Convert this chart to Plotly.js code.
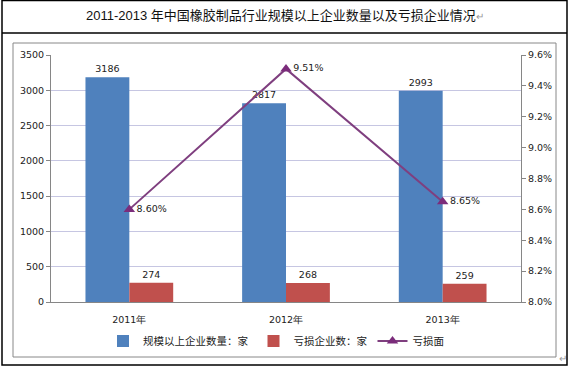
<!DOCTYPE html>
<html><head><meta charset="utf-8">
<script src="https://cdn.plot.ly/plotly-3.0.1.min.js"></script>
<style>html,body{margin:0;padding:0;background:#fff}#c{width:570px;height:367px}</style>
</head><body><div id="c"></div>
<script>
const categories = ['2011年','2012年','2013年'];
const enterpriseCount = [3186, 2817, 2993];
const lossCount = [274, 268, 259];
const lossRate = [8.60, 9.51, 8.65];
const seriesNames = ['规模以上企业数量：家','亏损企业数：家','亏损面'];
const y2Ticks = [8.0,8.2,8.4,8.6,8.8,9.0,9.2,9.4,9.6];

const W=570,H=367;
const px=x=>x/W, py=y=>1-y/H;
const tickFont={family:'DejaVu Sans, Verdana, sans-serif',size:9.5,color:'#222'};

const traces=[
 {type:'bar',x:categories,y:enterpriseCount,name:seriesNames[0],marker:{color:'#4F81BD'},
  text:enterpriseCount.map(String),textposition:'outside',cliponaxis:false,
  textfont:{family:'DejaVu Sans, Verdana, sans-serif',size:9.5,color:'#222'}},
 {type:'bar',x:categories,y:lossCount,name:seriesNames[1],marker:{color:'#C0504D'},
  text:lossCount.map(String),textposition:'outside',cliponaxis:false,
  textfont:{family:'DejaVu Sans, Verdana, sans-serif',size:9.5,color:'#222'}},
 {type:'scatter',mode:'lines+markers+text',x:categories,y:lossRate,yaxis:'y2',name:seriesNames[2],
  line:{color:'#7F3F7F',width:2},marker:{symbol:'triangle-up',size:10,color:'#7B2C7B'},
  text:lossRate.map(v=>v.toFixed(2)+'%'),textposition:'middle right',cliponaxis:false,
  textfont:{family:'DejaVu Sans, Verdana, sans-serif',size:9.5,color:'#222'}}
];

const layout={
 width:W,height:H,margin:{l:0,r:0,t:0,b:0},paper_bgcolor:'#fff',plot_bgcolor:'#fff',
 showlegend:true,barmode:'group',bargap:0.44,bargroupgap:0,
 xaxis:{domain:[px(51),px(521)],showline:true,linecolor:'#868686',linewidth:1,ticks:'',
   ticklabelstandoff:9,
   tickfont:{family:'DejaVu Sans, sans-serif',size:9.5,color:'#222'},showgrid:false,fixedrange:true},
 yaxis:{domain:[py(302),py(55)],range:[0,3500],dtick:500,showline:true,linecolor:'#868686',
   gridcolor:'#C6C6E2',gridwidth:1,ticks:'outside',ticklen:4,tickcolor:'#868686',
   tickfont:tickFont,zeroline:false,fixedrange:true},
 yaxis2:{overlaying:'y',side:'right',range:[8.0,9.6],tickvals:y2Ticks,
   ticktext:y2Ticks.map(v=>v.toFixed(1)+'%'),showline:true,linecolor:'#868686',
   ticks:'outside',ticklen:4,tickcolor:'#868686',showgrid:false,zeroline:false,
   tickfont:tickFont,anchor:'x',fixedrange:true},
 legend:{orientation:'h',x:px(103),y:py(341),xanchor:'left',yanchor:'middle',
   font:{family:'Noto Sans CJK SC, sans-serif',size:10.5,color:'#222'},
   traceorder:'normal',itemwidth:30,bgcolor:'rgba(0,0,0,0)'},
 annotations:[
  {xref:'paper',yref:'paper',x:px(285),y:py(16),xanchor:'center',yanchor:'middle',showarrow:false,
   text:'2011-2013 年中国橡胶制品行业规模以上企业数量以及亏损企业情况<span style="color:#999;font-size:10px">↵</span>',
   font:{family:'Liberation Sans, Noto Sans CJK SC, sans-serif',size:13,color:'#111'}},
  {xref:'paper',yref:'paper',x:px(563),y:py(358),xanchor:'center',yanchor:'middle',showarrow:false,
   text:'↵',font:{size:10,color:'#999'}}
 ],
 shapes:[
  {type:'rect',xref:'paper',yref:'paper',x0:px(2),x1:px(567),y0:py(365),y1:py(0.5),line:{color:'#000',width:1.5}},
  {type:'line',xref:'paper',yref:'paper',x0:px(2),x1:px(567),y0:py(33),y1:py(33),line:{color:'#000',width:1.5}},
  {type:'rect',xref:'paper',yref:'paper',x0:px(13),x1:px(556),y0:py(357),y1:py(43),line:{color:'#888',width:1}}
 ]
};
Plotly.newPlot('c',traces,layout,{displayModeBar:false,staticPlot:true});
</script></body></html>
